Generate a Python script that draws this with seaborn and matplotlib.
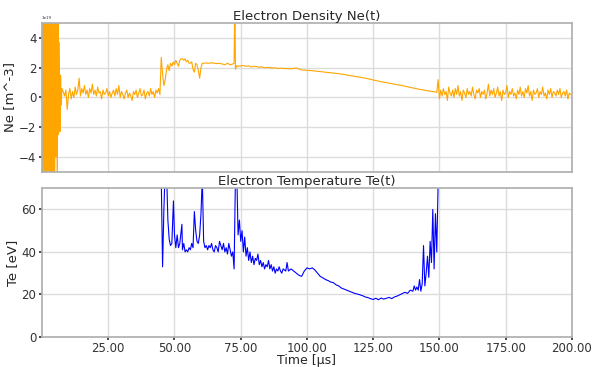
import numpy as np
import matplotlib
matplotlib.use('Agg')
import matplotlib.pyplot as plt
import seaborn as sns
from matplotlib.ticker import FormatStrFormatter

# electron density, units of 1e19 m^-3
# burst at the start, sampled every 0.25 us from 0
ne_burst = [6, -7, 8, -6, 9, -8, 7, -9, 8, -5, 7, -8, 9, -7, 6, -8, 8, -6, 7, -9,
            6, -4, 5, -7, 6, -2.5, 3.7, -2.3, 1.5, -0.5, 0.6]
# quiet part 8 .. 44.5 us, every 0.5 us
ne_quiet1 = [0.4, 0.1, 0.5, -0.8, 0.2, 0.6, -0.1, 0.4, 0.0, 0.7, 0.2, 0.5, 1.3, 0.1, 0.6, 0.3,
             0.8, 0.2, 0.5, 0.0, 0.6, 0.3, 0.9, 0.2, 0.5, 0.1, 0.7, 0.3, 0.4, -0.1, 0.5, 0.2,
             0.3, 0.6, 0.1, 0.4, 0.0, 0.3, 0.5, 0.1, 0.6, 0.2, 0.8, 0.0, 0.4, 0.2, -0.1, 0.3,
             0.5, 0.0, 0.3, 0.1, -0.2, 0.4, 0.2, 0.5, 0.0, 0.3, 0.6, 0.1, 0.2, 0.5, -0.1, 0.3,
             0.4, 0.1, 0.6, 0.2, 0.4, 0.0, 0.5, 0.3, 0.6, 0.2]
# plasma part
ne_plasma_t = [45, 45.5, 46, 46.5, 47, 47.5, 48, 48.5, 49, 49.5, 50, 50.5, 51, 51.5, 52, 52.5,
               53, 53.5, 54, 54.5, 55, 55.5, 56, 56.5, 57, 57.5, 58, 58.5, 59, 59.5, 60, 60.5,
               61, 62, 63, 64, 65, 66, 67, 68, 69, 70, 71, 72, 72.5, 72.8, 73.0, 73.5, 74,
               75, 76, 77, 78, 79, 80, 81, 82, 83, 84, 85, 86, 87, 88, 89, 90, 92, 94, 96,
               98, 100, 102, 104, 106, 108, 110, 112, 114, 116, 118, 120, 122, 124, 126, 128,
               130, 132, 134, 136, 138, 140, 142, 144, 146, 148, 149]
ne_plasma = [2.7, 1.6, 0.8, 1.2, 1.9, 2.2, 1.8, 2.3, 2.1, 2.4, 2.2, 2.5, 2.3, 2.1, 2.5, 2.6,
             2.6, 2.5, 2.6, 2.4, 2.5, 2.3, 2.3, 2.4, 1.9, 1.7, 2.3, 2.2, 1.8, 1.3, 2.0, 2.3,
             2.3, 2.32, 2.3, 2.34, 2.3, 2.28, 2.3, 2.25, 2.2, 2.3, 2.2, 2.25, 2.3, 7.0, 1.9, 2.15, 2.1,
             2.12, 2.15, 2.1, 2.13, 2.05, 2.1, 2.08, 2.03, 2.06, 2.0, 2.02, 2.0, 1.98, 2.0, 1.95, 1.97,
             1.95, 1.93, 1.98, 1.85, 1.83, 1.8, 1.76, 1.72, 1.68, 1.64, 1.6, 1.55, 1.48, 1.42, 1.36,
             1.3, 1.22, 1.14, 1.06, 1.0, 0.93, 0.86, 0.8, 0.72, 0.64, 0.57, 0.5, 0.44, 0.38, 0.35]
# quiet part 149.5 .. 200 us, every 0.5 us
ne_quiet2 = [1.2, -0.1, 0.5, 0.1, 0.6, 0.2, 0.4, -0.2, 0.7, 0.3, 0.1, 0.5, 0.0, 0.6, 0.2, 0.8,
             0.1, 0.4, -0.2, 0.5, 0.3, 0.0, 0.6, 0.2, 0.4, 0.1, 0.7, 0.2, -0.1, 0.5, 0.3, 0.6,
             0.0, 0.4, 0.2, 0.5, -0.1, 0.3, 0.9, 0.1, 0.5, 0.2, 0.6, 0.0, 0.3, 0.7, 0.1, 0.4,
             -0.2, 0.5, 0.2, 0.3, 0.8, 0.0, 0.4, 0.2, 0.6, 0.1, 0.3, -0.1, 0.5, 0.2, 0.7, 0.1,
             0.4, 0.0, 0.6, 0.3, 0.8, 0.1, 0.4, -0.2, 0.5, 0.2, 0.3, 0.6, 0.0, 0.4, 0.2, 0.7,
             0.1, 0.3, -0.1, 0.5, 0.2, 0.6, 0.0, 0.4, 0.3, 0.1, 0.5, 0.2, 0.6, 0.0, 0.3, 0.4,
             0.1, 0.5, -0.1, 0.3, 0.2]

ne_t = np.concatenate([np.arange(len(ne_burst)) * 0.25,
                       8 + np.arange(len(ne_quiet1)) * 0.5,
                       ne_plasma_t,
                       149.5 + np.arange(len(ne_quiet2)) * 0.5])
ne_v = np.concatenate([ne_burst, ne_quiet1, ne_plasma, ne_quiet2]) * 1e19

# electron temperature [eV]
te_t = [45.0, 45.5, 46, 46.5, 47, 47.5, 48, 48.5, 49, 49.6, 50, 50.5, 51, 51.5, 52, 52.8,
        53, 53.5, 54, 54.5, 55, 55.5, 56, 56.5, 57, 57.5, 58, 58.5, 59, 59.5, 60, 60.5,
        61, 61.5, 62, 62.5, 63, 63.5, 64, 64.5, 65, 65.5, 66, 66.5, 67, 67.5, 68, 68.5,
        69, 69.5, 70, 70.5, 71, 71.5, 72, 72.5, 73, 73.5, 74, 74.5, 75, 75.5, 76, 76.5,
        77, 77.5, 78, 78.5, 79, 79.5, 80, 80.5, 81, 81.5, 82, 82.5, 83, 83.5, 84, 84.5,
        85, 85.5, 86, 86.5, 87, 87.5, 88, 88.5, 89, 89.5, 90, 90.5, 91, 92, 92.5, 93,
        94, 95, 96, 97, 98, 99, 100, 101, 102, 103, 104, 105, 106, 107, 108, 109, 110,
        111, 112, 113, 114, 115, 116, 117, 118, 119, 120, 121, 122, 123, 124, 125, 126,
        127, 128, 129, 130, 131, 132, 133, 134, 135, 136, 137, 138, 139, 140, 140.5, 141,
        141.5, 142, 142.5, 143, 143.5, 144, 144.5, 145, 145.5, 146, 146.5, 147, 147.5, 148,
        148.5, 149, 149.5]
te_v = [75, 33, 60, 80, 78, 55, 46, 43, 44, 64, 48, 42, 48, 42, 44, 53,
        41, 44, 40, 41, 40, 42, 41, 44, 42, 59, 50, 45, 44, 48, 58, 75,
        45, 42, 43, 41, 43, 42, 44, 41, 40, 43, 42, 40, 45, 43, 41, 44,
        40, 42, 39, 44, 41, 38, 40, 32, 75, 78, 48, 55, 45, 50, 40, 47,
        38, 42, 36, 40, 35, 38, 34, 37, 36, 39, 34, 36, 33, 35, 32, 34,
        33, 36, 32, 34, 31, 33, 30, 32, 31, 33, 31, 30, 32, 31, 35, 31,
        32, 31, 30, 29, 28.5, 31, 32.5, 32, 32.5, 31.5, 30, 28.5, 27.8, 27, 26.5, 25.8, 25.5,
        24.5, 24, 23, 22.5, 22, 21.5, 21, 20.5, 20.2, 19.8, 19.4, 18.8, 18.5, 18, 17.6, 18.2,
        17.5, 18.3, 17.8, 18.2, 18.6, 18, 18.8, 19.2, 19.8, 20.4, 21, 20.5, 22, 21.5, 24, 22,
        23.5, 22, 27, 21.5, 25, 43, 24, 30, 38, 28, 45, 35, 60, 32,
        58, 40, 72]

sns.set_theme(style='whitegrid')
plt.rcParams.update({'font.family': ['DejaVu Sans'], 'axes.edgecolor': '#b0b0b0',
                     'grid.color': '#dcdcdc', 'xtick.bottom': True, 'ytick.left': True,
                     'xtick.major.size': 2.5, 'ytick.major.size': 2.5,
                     'xtick.major.pad': 1.5, 'ytick.major.pad': 1.5,
                     'xtick.color': '#333333', 'ytick.color': '#333333'})

fig, (ax1, ax2) = plt.subplots(2, 1, figsize=(5.92, 3.67), dpi=100, sharex=True)
fig.subplots_adjust(left=0.071, right=0.966, top=0.937, bottom=0.082, hspace=0.11)

sns.lineplot(x=ne_t, y=ne_v, ax=ax1, color='orange', linewidth=0.8, estimator=None)
ax1.set_ylim(-5e19, 5e19)
ax1.set_yticks([-4e19, -2e19, 0, 2e19, 4e19])
ax1.set_title('Electron Density Ne(t)', fontsize=9.5, pad=1)
ax1.set_ylabel('Ne [m^-3]', fontsize=9.5, labelpad=2)
ax1.yaxis.get_offset_text().set_fontsize(3)
ax1.tick_params(labelsize=8.5)

sns.lineplot(x=te_t, y=te_v, ax=ax2, color='blue', linewidth=0.8, estimator=None)
ax2.set_ylim(0, 70)
ax2.set_yticks([0, 20, 40, 60])
ax2.set_xlim(0, 200)
ax2.set_xticks([25, 50, 75, 100, 125, 150, 175, 200])
ax2.xaxis.set_major_formatter(FormatStrFormatter('%.2f'))
ax2.set_title('Electron Temperature Te(t)', fontsize=9.5, pad=1)
ax2.set_ylabel('Te [eV]', fontsize=9.5, labelpad=2)
ax2.set_xlabel('Time [µs]', fontsize=9, labelpad=-1)
ax2.tick_params(labelsize=8.5)
ax1.tick_params(axis='x', length=0)

fig.savefig('out.png', dpi=100)
